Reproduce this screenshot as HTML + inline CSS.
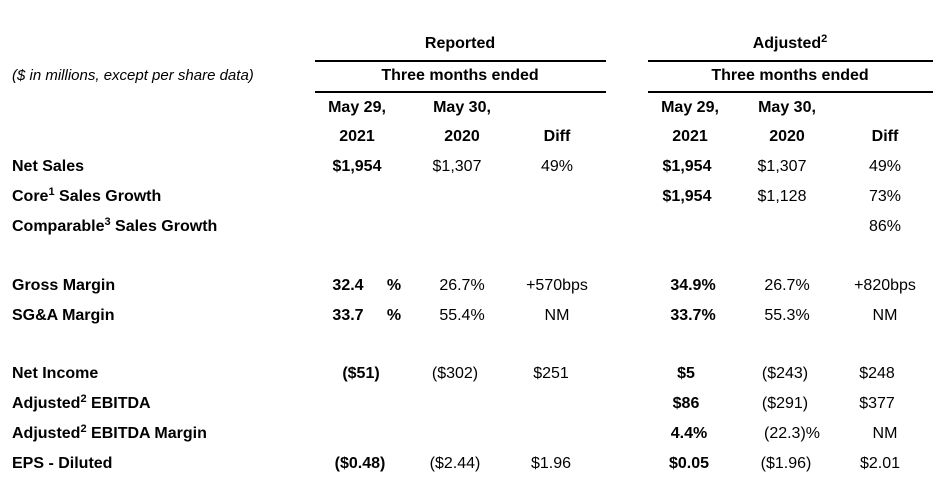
<!DOCTYPE html>
<html><head><meta charset="utf-8"><style>
body{margin:0;width:937px;height:481px;background:#fff;position:relative;overflow:hidden;font-family:"Liberation Sans",Arial,sans-serif;font-size:16px;color:#000}
.t{position:absolute;line-height:18px;white-space:nowrap}
.c{transform:translateX(-50%)}
.r{transform:translateX(-100%)}
.b{font-weight:bold}
.i{font-style:italic;font-size:15px}
sup{font-size:11px;vertical-align:6px;line-height:0}
.ln{position:absolute;height:1.5px;background:#000}
</style></head><body>
<div class="t c b" style="left:460px;top:35px">Reported</div>
<div class="t c b" style="left:790px;top:35px">Adjusted<sup>2</sup></div>
<div class="ln" style="left:315px;top:60px;width:291px"></div>
<div class="ln" style="left:648px;top:60px;width:285px"></div>
<div class="t i" style="left:12px;top:67px">($ in millions, except per share data)</div>
<div class="t c b" style="left:460px;top:67px">Three months ended</div>
<div class="t c b" style="left:790px;top:67px">Three months ended</div>
<div class="ln" style="left:315px;top:91px;width:291px"></div>
<div class="ln" style="left:648px;top:91px;width:285px"></div>

<div class="t c b" style="left:357px;top:99px">May 29,</div>
<div class="t c b" style="left:462px;top:99px">May 30,</div>
<div class="t c b" style="left:690px;top:99px">May 29,</div>
<div class="t c b" style="left:787px;top:99px">May 30,</div>
<div class="t c b" style="left:357px;top:128px">2021</div>
<div class="t c b" style="left:462px;top:128px">2020</div>
<div class="t c b" style="left:557px;top:128px">Diff</div>
<div class="t c b" style="left:690px;top:128px">2021</div>
<div class="t c b" style="left:787px;top:128px">2020</div>
<div class="t c b" style="left:885px;top:128px">Diff</div>

<div class="t b" style="left:12px;top:158px">Net Sales</div>
<div class="t c b" style="left:357px;top:158px">$1,954</div>
<div class="t c" style="left:457px;top:158px">$1,307</div>
<div class="t c" style="left:557px;top:158px">49%</div>
<div class="t c b" style="left:687px;top:158px">$1,954</div>
<div class="t c" style="left:782px;top:158px">$1,307</div>
<div class="t c" style="left:885px;top:158px">49%</div>

<div class="t b" style="left:12px;top:188px">Core<sup>1</sup> Sales Growth</div>
<div class="t c b" style="left:687px;top:188px">$1,954</div>
<div class="t c" style="left:782px;top:188px">$1,128</div>
<div class="t c" style="left:885px;top:188px">73%</div>

<div class="t b" style="left:12px;top:218px">Comparable<sup>3</sup> Sales Growth</div>
<div class="t c" style="left:885px;top:218px">86%</div>

<div class="t b" style="left:12px;top:277px">Gross Margin</div>
<div class="t c b" style="left:348px;top:277px">32.4</div>
<div class="t c b" style="left:394px;top:277px">%</div>
<div class="t c" style="left:462px;top:277px">26.7%</div>
<div class="t c" style="left:557px;top:277px">+570bps</div>
<div class="t c b" style="left:693px;top:277px">34.9%</div>
<div class="t c" style="left:787px;top:277px">26.7%</div>
<div class="t c" style="left:885px;top:277px">+820bps</div>

<div class="t b" style="left:12px;top:307px">SG&amp;A Margin</div>
<div class="t c b" style="left:348px;top:307px">33.7</div>
<div class="t c b" style="left:394px;top:307px">%</div>
<div class="t c" style="left:462px;top:307px">55.4%</div>
<div class="t c" style="left:557px;top:307px">NM</div>
<div class="t c b" style="left:693px;top:307px">33.7%</div>
<div class="t c" style="left:787px;top:307px">55.3%</div>
<div class="t c" style="left:885px;top:307px">NM</div>

<div class="t b" style="left:12px;top:365px">Net Income</div>
<div class="t c b" style="left:361px;top:365px">($51)</div>
<div class="t c" style="left:455px;top:365px">($302)</div>
<div class="t c" style="left:551px;top:365px">$251</div>
<div class="t c b" style="left:686px;top:365px">$5</div>
<div class="t c" style="left:785px;top:365px">($243)</div>
<div class="t c" style="left:877px;top:365px">$248</div>

<div class="t b" style="left:12px;top:395px">Adjusted<sup>2</sup> EBITDA</div>
<div class="t c b" style="left:686px;top:395px">$86</div>
<div class="t c" style="left:785px;top:395px">($291)</div>
<div class="t c" style="left:877px;top:395px">$377</div>

<div class="t b" style="left:12px;top:425px">Adjusted<sup>2</sup> EBITDA Margin</div>
<div class="t c b" style="left:689px;top:425px">4.4%</div>
<div class="t c" style="left:792px;top:425px">(22.3)%</div>
<div class="t c" style="left:885px;top:425px">NM</div>

<div class="t b" style="left:12px;top:455px">EPS - Diluted</div>
<div class="t c b" style="left:360px;top:455px">($0.48)</div>
<div class="t c" style="left:455px;top:455px">($2.44)</div>
<div class="t c" style="left:551px;top:455px">$1.96</div>
<div class="t c b" style="left:689px;top:455px">$0.05</div>
<div class="t c" style="left:786px;top:455px">($1.96)</div>
<div class="t c" style="left:880px;top:455px">$2.01</div>
</body></html>
